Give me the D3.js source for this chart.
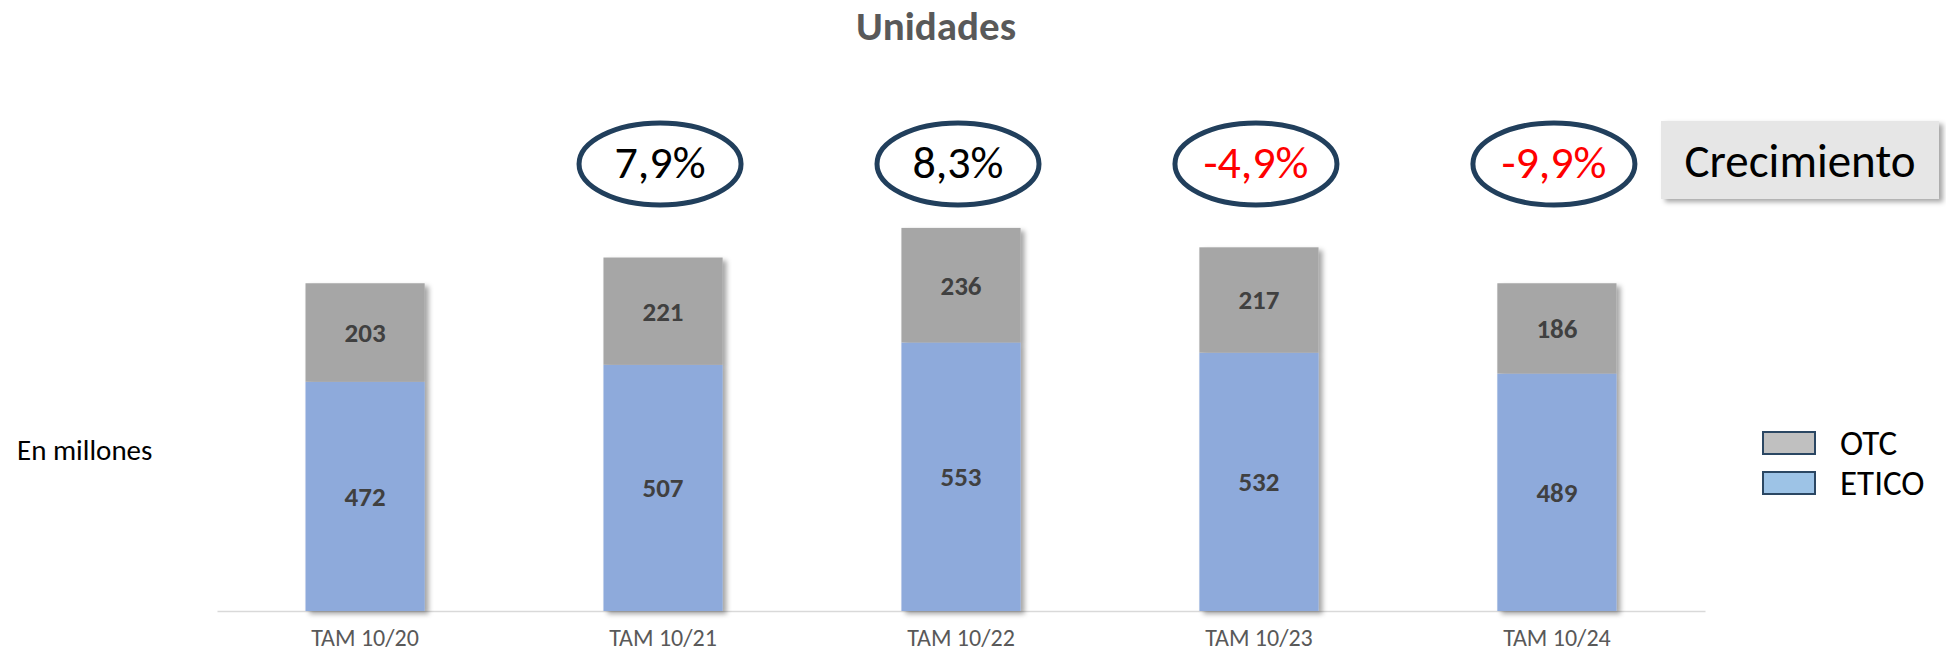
<!DOCTYPE html>
<html>
<head>
<meta charset="utf-8">
<script src="https://cdn.jsdelivr.net/npm/d3@7"></script>
<style>
  html, body { margin: 0; padding: 0; background: #fff; }
  svg { display: block; font-family: Carlito, Calibri, Lato, sans-serif; }
</style>
</head>
<body>
<svg id="chart" width="1946" height="654"></svg>
<script>
// ---- data ----
const categories = ["TAM 10/20", "TAM 10/21", "TAM 10/22", "TAM 10/23", "TAM 10/24"];
const etico = [472, 507, 553, 532, 489];
const otc = [203, 221, 236, 217, 186];
const growth = [null, 7.9, 8.3, -4.9, -9.9];
const seriesNames = ["OTC", "ETICO"];
const title = "Unidades";
const unitLabel = "En millones";
const growthLabel = "Crecimiento";

// ---- layout ----
const W = 1946, H = 654;
const svg = d3.select("#chart");
const defs = svg.append("defs");
const f = defs.append("filter").attr("id", "shadow").attr("x", "-10%").attr("y", "-10%").attr("width", "130%").attr("height", "130%");
f.append("feDropShadow").attr("dx", 4).attr("dy", 3).attr("stdDeviation", 2.5)
  .attr("flood-color", "#000").attr("flood-opacity", 0.35);

const x = d3.scaleBand().domain(categories).range([217, 1705]).paddingInner(0.6).paddingOuter(0.297);
const y = d3.scaleLinear().domain([0, 900]).range([611, 174]);

const colors = { OTC: "#a6a6a6", ETICO: "#8eaadb" };
const legendColors = { OTC: "#c0c0c0", ETICO: "#9dc3e6" };

const data = categories.map((c, i) => ({ cat: c, ETICO: etico[i], OTC: otc[i], g: growth[i] }));
const stack = d3.stack().keys(["ETICO", "OTC"])(data);

// title
svg.append("text").attr("x", 936).attr("y", 40).attr("text-anchor", "middle")
  .attr("font-size", 41).attr("font-weight", "bold").attr("fill", "#595959").text(title);

// axis baseline
const axis = svg.append("g").attr("transform", `translate(0,${y(0)})`)
  .call(d3.axisBottom(x).tickSize(0).tickPadding(0));
axis.select(".domain").attr("stroke", "#d9d9d9").attr("stroke-width", 1.5);
axis.selectAll(".tick text").attr("y", 35).attr("dy", 0)
  .attr("font-size", 24).attr("fill", "#595959").attr("font-family", "Carlito, Calibri, Lato, sans-serif");

// bars
const barsG = svg.append("g").attr("filter", "url(#shadow)");
barsG.selectAll("g.series").data(stack).join("g").attr("class", "series")
  .attr("fill", d => colors[d.key])
  .selectAll("rect").data(d => d).join("rect")
  .attr("x", d => x(d.data.cat))
  .attr("width", x.bandwidth())
  .attr("y", d => y(d[1]))
  .attr("height", d => y(d[0]) - y(d[1]));

// segment labels
stack.forEach(s => {
  svg.append("g").selectAll("text").data(s).join("text")
    .attr("x", d => x(d.data.cat) + x.bandwidth() / 2)
    .attr("y", d => (y(d[0]) + y(d[1])) / 2)
    .attr("dy", "0.35em")
    .attr("text-anchor", "middle")
    .attr("font-size", 27).attr("font-weight", "bold").attr("fill", "#404040")
    .text(d => d[1] - d[0]);
});

// growth ellipses
const fmt = v => (v < 0 ? "-" : "") + d3.format(".1f")(Math.abs(v)).replace(".", ",") + "%";
const gg = svg.append("g").selectAll("g").data(data.filter(d => d.g !== null)).join("g")
  .attr("transform", d => `translate(${x(d.cat) + x.bandwidth() / 2 - 3},164)`);
gg.append("ellipse").attr("rx", 81).attr("ry", 41)
  .attr("fill", "#fff").attr("stroke", "#213f5c").attr("stroke-width", 5);
gg.append("text").attr("text-anchor", "middle").attr("y", 14)
  .attr("font-size", 46).attr("fill", d => d.g < 0 ? "#ff0000" : "#000")
  .text(d => fmt(d.g));

// Crecimiento box
const cb = svg.append("g");
cb.append("rect").attr("x", 1661).attr("y", 121).attr("width", 278).attr("height", 78)
  .attr("fill", "#e6e6e6").attr("filter", "url(#shadow)");
cb.append("text").attr("x", 1800).attr("y", 177).attr("text-anchor", "middle")
  .attr("font-size", 47).attr("fill", "#000").text(growthLabel);

// unit label
svg.append("text").attr("x", 17).attr("y", 460).attr("font-size", 29).attr("fill", "#000").text(unitLabel);

// legend
const lg = svg.append("g").selectAll("g").data(seriesNames).join("g")
  .attr("transform", (d, i) => `translate(1763,${432 + i * 40})`);
lg.append("rect").attr("width", 52).attr("height", 22)
  .attr("fill", d => legendColors[d]).attr("stroke", "#2b4763").attr("stroke-width", 2);
lg.append("text").attr("x", 77).attr("y", 23).attr("font-size", 35).attr("fill", "#000").text(d => d);
</script>
</body>
</html>
